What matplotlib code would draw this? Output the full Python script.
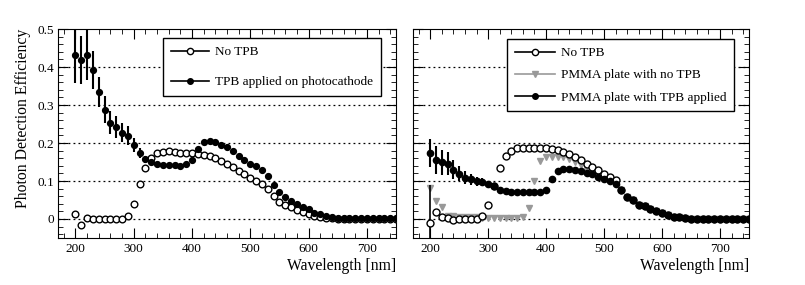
import numpy as np
import matplotlib
matplotlib.use("Agg")
import matplotlib.pyplot as plt
from matplotlib.ticker import MultipleLocator

plt.rcParams["font.family"] = ["Liberation Serif", "DejaVu Serif"]

wl = list(range(200, 760, 10))

# left panel
left_notpb = [0.013, -0.015, 0.003, 0.001, 0.001, 0.0, 0.0, 0.0, 0.001, 0.009,
              0.040, 0.091, 0.135, 0.161, 0.173, 0.177, 0.179, 0.177, 0.174, 0.174,
              0.174, 0.171, 0.168, 0.165, 0.160, 0.153, 0.144, 0.137, 0.127, 0.118,
              0.108, 0.099, 0.091, 0.078, 0.060, 0.046, 0.037, 0.031, 0.024, 0.019,
              0.013, 0.009, 0.005, 0.003, 0.002, 0.001, 0.001, 0.001, 0.001, 0.001,
              0.001, 0.001, 0.001, 0.001, 0.001, 0.001]
left_tpb = [0.432, 0.419, 0.432, 0.392, 0.335, 0.288, 0.254, 0.241, 0.227, 0.219,
            0.194, 0.173, 0.157, 0.149, 0.144, 0.142, 0.142, 0.142, 0.140, 0.144,
            0.155, 0.184, 0.202, 0.204, 0.202, 0.195, 0.189, 0.180, 0.165, 0.155,
            0.146, 0.140, 0.130, 0.113, 0.090, 0.071, 0.058, 0.047, 0.039, 0.031,
            0.025, 0.017, 0.012, 0.007, 0.004, 0.003, 0.002, 0.002, 0.002, 0.002,
            0.002, 0.002, 0.002, 0.002, 0.002, 0.002]
left_tpb_err = [0.075, 0.064, 0.065, 0.05, 0.04, 0.035, 0.031, 0.029, 0.025, 0.025,
                0.018, 0.013, 0.01] + [0.0] * 43

# right panel
right_notpb = [-0.011, 0.018, 0.004, 0.002, -0.002, 0.0, 0.0, 0.0, 0.001, 0.009,
               0.038, 0.088, 0.135, 0.166, 0.180, 0.186, 0.188, 0.188, 0.187, 0.187,
               0.187, 0.185, 0.182, 0.177, 0.171, 0.164, 0.155, 0.146, 0.137, 0.128,
               0.119, 0.111, 0.102, 0.075, 0.059, 0.049, 0.038, 0.033, 0.027, 0.020,
               0.015, 0.010, 0.006, 0.004, 0.002, 0.001, 0.001, 0.001, 0.001, 0.001,
               0.001, 0.001, 0.001, 0.001, 0.001, 0.001]
right_notpb_err = [0.1] + [0.0] * 55
pmma_notpb = [0.082, 0.047, 0.031, 0.009, 0.007, 0.006, 0.006, 0.005, 0.004, 0.003,
              0.003, 0.003, 0.002, 0.002, 0.002, 0.002, 0.006, 0.029, 0.099, 0.153,
              0.164, 0.164, 0.164, 0.162, 0.157, 0.149, 0.142, 0.130, 0.125, 0.115,
              0.108, 0.102, 0.095, 0.075, 0.059, 0.049, 0.038, 0.033, 0.027, 0.020,
              0.015, 0.010, 0.006, 0.004, 0.002, 0.001, 0.001, 0.001, 0.001, 0.001,
              0.001, 0.001, 0.001, 0.001, 0.001, 0.001]
pmma_tpb = [0.173, 0.155, 0.149, 0.146, 0.130, 0.119, 0.109, 0.104, 0.099, 0.097,
            0.091, 0.086, 0.077, 0.073, 0.071, 0.070, 0.070, 0.070, 0.070, 0.070,
            0.077, 0.106, 0.127, 0.131, 0.131, 0.130, 0.127, 0.122, 0.119, 0.111,
            0.104, 0.099, 0.093, 0.075, 0.059, 0.049, 0.038, 0.033, 0.027, 0.020,
            0.015, 0.010, 0.006, 0.004, 0.002, 0.001, 0.001, 0.001, 0.001, 0.001,
            0.001, 0.001, 0.001, 0.001, 0.001, 0.001]
pmma_tpb_err = [0.037, 0.036, 0.033, 0.03, 0.025, 0.02, 0.017, 0.014, 0.012, 0.01,
                0.006] + [0.0] * 45

fig = plt.figure(figsize=(8.05, 2.85), dpi=100)
ax1 = fig.add_axes([0.072, 0.165, 0.420, 0.733])
ax2 = fig.add_axes([0.5127, 0.165, 0.4178, 0.733])


def style(ax):
    ax.set_xlim(170, 750)
    ax.set_ylim(-0.05, 0.5)
    ax.xaxis.set_major_locator(MultipleLocator(100))
    ax.xaxis.set_minor_locator(MultipleLocator(20))
    ax.yaxis.set_major_locator(MultipleLocator(0.1))
    ax.yaxis.set_minor_locator(MultipleLocator(0.02))
    ax.tick_params(which="both", direction="in", top=True, right=True, labelsize=9.5)
    ax.tick_params(which="major", length=7)
    ax.tick_params(which="minor", length=3.5)
    ax.tick_params(axis="y", pad=2.5)
    for y in [0, 0.1, 0.2, 0.3, 0.4]:
        ax.axhline(y, color="black", ls=(0, (1.5, 2.5)), lw=0.9, zorder=0)
    ax.set_xlabel("Wavelength [nm]", loc="right", fontsize=11.3, labelpad=2)


style(ax1)
style(ax2)
ax1.set_yticks([0, 0.1, 0.2, 0.3, 0.4, 0.5])
ax1.set_yticklabels(["0", "0.1", "0.2", "0.3", "0.4", "0.5"])
ax1.set_ylabel("Photon Detection Efficiency", loc="top", fontsize=11.3, labelpad=5)
ax2.tick_params(labelleft=False)

# left
ax1.errorbar(wl, left_notpb, fmt="o", ms=4.8, mfc="white", mec="black", mew=1.0,
             color="black", lw=1.0, label="No TPB", zorder=3)
ax1.errorbar(wl, left_tpb, yerr=left_tpb_err, fmt="o", ms=4.2, mfc="black", mec="black",
             ecolor="black", elinewidth=1.5, capsize=0, color="black", lw=1.0,
             label="TPB applied on photocathode", zorder=4)

h1 = [plt.Line2D([], [], color="black", lw=1.2, marker="o", ms=4.5, mfc="white", mec="black"),
      plt.Line2D([], [], color="black", lw=1.2, marker="o", ms=4, mfc="black", mec="black")]
leg1 = ax1.legend(h1, ["No TPB", "TPB applied on photocathode"], loc="upper right",
                  bbox_to_anchor=(0.956, 0.957), borderaxespad=0, fontsize=9.5,
                  frameon=True, fancybox=False, edgecolor="black", framealpha=1,
                  borderpad=0.6, labelspacing=1.35, handlelength=2.9, handletextpad=0.45)
leg1.get_frame().set_linewidth(1.0)

# right
ax2.errorbar(wl, pmma_notpb, fmt="v", ms=4.5, mfc="#999999", mec="#999999",
             color="#999999", zorder=2)
ax2.errorbar(wl, right_notpb, yerr=right_notpb_err, fmt="o", ms=5, mfc="white", mec="black",
             mew=1.0, ecolor="black", elinewidth=1.2, capsize=0, zorder=3)
ax2.errorbar(wl, pmma_tpb, yerr=pmma_tpb_err, fmt="o", ms=4.5, mfc="black", mec="black",
             ecolor="black", elinewidth=1.5, capsize=0, zorder=4)

h2 = [plt.Line2D([], [], color="black", lw=1.2, marker="o", ms=4.5, mfc="white", mec="black"),
      plt.Line2D([], [], color="#999999", lw=1.2, marker="v", ms=4, mfc="#999999", mec="#999999"),
      plt.Line2D([], [], color="black", lw=1.2, marker="o", ms=4, mfc="black", mec="black")]
leg2 = ax2.legend(h2, ["No TPB", "PMMA plate with no TPB", "PMMA plate with TPB applied"],
                  loc="upper right", bbox_to_anchor=(0.955, 0.952), borderaxespad=0,
                  fontsize=9.5, frameon=True, fancybox=False, edgecolor="black",
                  framealpha=1, borderpad=0.6, labelspacing=0.75, handlelength=3.0,
                  handletextpad=0.45)
leg2.get_frame().set_linewidth(1.0)

fig.savefig("out.png", dpi=100)
